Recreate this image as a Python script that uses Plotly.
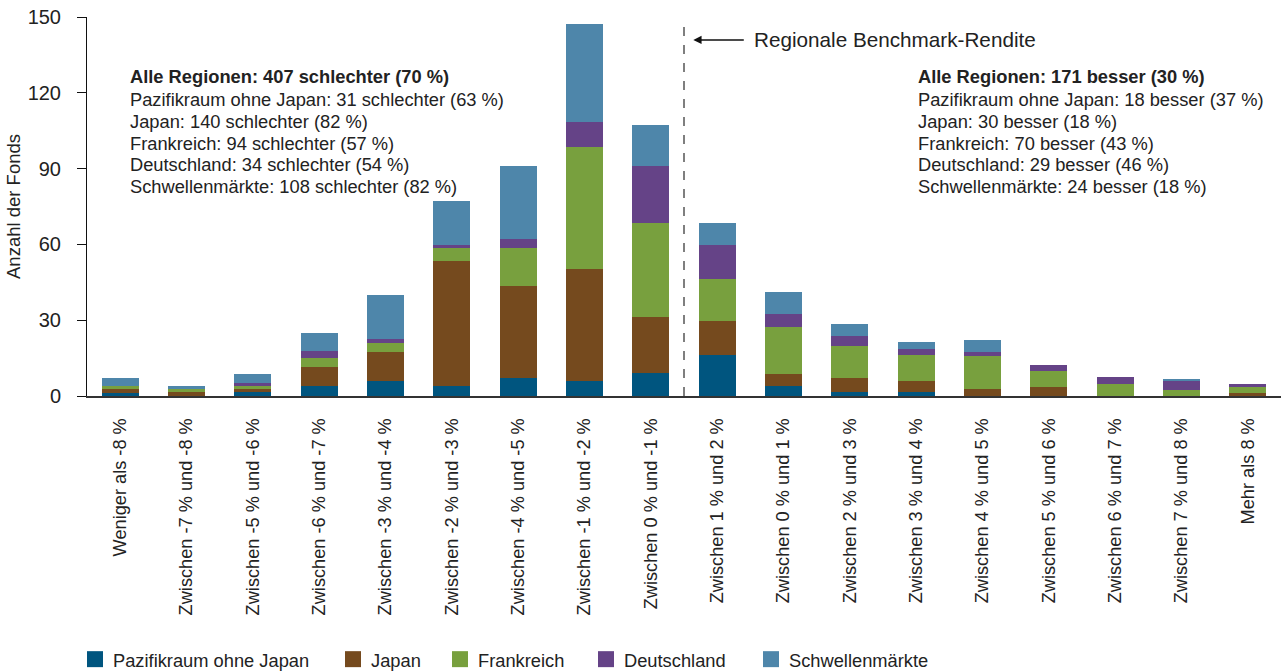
import plotly.graph_objects as go

# Return buckets (category order as printed on the axis)
categories = [
    "Weniger als -8 %",
    "Zwischen -7 % und -8 %",
    "Zwischen -5 % und -6 %",
    "Zwischen -6 % und -7 %",
    "Zwischen -3 % und -4 %",
    "Zwischen -2 % und -3 %",
    "Zwischen -4 % und -5 %",
    "Zwischen -1 % und -2 %",
    "Zwischen 0 % und -1 %",
    "Zwischen 1 % und 2 %",
    "Zwischen 0 % und 1 %",
    "Zwischen 2 % und 3 %",
    "Zwischen 3 % und 4 %",
    "Zwischen 4 % und 5 %",
    "Zwischen 5 % und 6 %",
    "Zwischen 6 % und 7 %",
    "Zwischen 7 % und 8 %",
    "Mehr als 8 %",
]

# Number of funds per region and bucket
pazifik = [1.3, 0.0, 1.4, 3.8, 6.1, 3.8, 7.3, 6.1, 9.0, 16.4, 3.8, 1.4, 1.4, 0.0, 0.0, 0.0, 0.0, 0.0]
japan = [1.3, 1.4, 1.2, 7.5, 11.4, 49.8, 36.4, 44.0, 22.1, 13.4, 5.1, 5.9, 4.7, 2.6, 3.7, 0.0, 0.0, 1.3]
frankreich = [1.2, 1.2, 1.2, 3.6, 3.6, 5.1, 15.0, 48.5, 37.4, 16.6, 18.6, 12.6, 10.3, 13.4, 6.3, 4.9, 2.5, 2.4]
deutschland = [0.0, 0.0, 1.2, 2.8, 1.6, 1.2, 3.6, 9.9, 22.5, 13.4, 5.1, 4.0, 2.4, 1.6, 2.4, 2.8, 3.6, 1.2]
schwellen = [3.5, 1.2, 3.9, 7.1, 17.4, 17.4, 28.9, 38.7, 16.2, 8.7, 8.7, 4.7, 2.4, 4.7, 0.0, 0.0, 0.4, 0.0]

series_names = ["Pazifikraum ohne Japan", "Japan", "Frankreich", "Deutschland", "Schwellenmärkte"]
series_values = [pazifik, japan, frankreich, deutschland, schwellen]
series_colors = ["#00557f", "#754a1e", "#78a03e", "#654387", "#4e86aa"]

y_ticks = [0, 30, 60, 90, 120, 150]

left_lines = [
    "<b>Alle Regionen: 407 schlechter (70 %)</b>",
    "Pazifikraum ohne Japan: 31 schlechter (63 %)",
    "Japan: 140 schlechter (82 %)",
    "Frankreich: 94 schlechter (57 %)",
    "Deutschland: 34 schlechter (54 %)",
    "Schwellenmärkte: 108 schlechter (82 %)",
]
right_lines = [
    "<b>Alle Regionen: 171 besser (30 %)</b>",
    "Pazifikraum ohne Japan: 18 besser (37 %)",
    "Japan: 30 besser (18 %)",
    "Frankreich: 70 besser (43 %)",
    "Deutschland: 29 besser (46 %)",
    "Schwellenmärkte: 24 besser (18 %)",
]
benchmark_label = "Regionale Benchmark-Rendite"

FONT = "Liberation Sans, Arial, sans-serif"
TEXT = "#222222"

W, H = 1283, 672
M_L, M_R, M_T, M_B = 87, 2, 17, 275.5
plot_w = W - M_L - M_R
plot_h = H - M_T - M_B


def px_x(pixel_x):
    """Convert a pixel column of the page into paper x."""
    return (pixel_x - M_L) / plot_w


def px_y(pixel_y):
    """Convert a pixel row of the page into paper y."""
    return (H - M_B - pixel_y) / plot_h


fig = go.Figure()
for name, vals, col in zip(series_names, series_values, series_colors):
    fig.add_trace(go.Bar(
        x=categories, y=vals, name=name, showlegend=False,
        marker=dict(color=col, line=dict(width=0)),
    ))

# Dashed divider between the negative and positive buckets
fig.add_shape(type="line", xref="x", yref="paper",
              x0=8.5, x1=8.5, y0=0, y1=px_y(24),
              line=dict(color="#555555", width=1.5, dash="dash"))

# Arrow pointing at the divider, with its caption
fig.add_annotation(xref="x", yref="paper", x=8.64, y=px_y(40),
                   axref="pixel", ayref="pixel", ax=52, ay=0,
                   text="", showarrow=True, arrowhead=2, arrowsize=1.1,
                   arrowwidth=1.5, arrowcolor="#111111", standoff=0)
fig.add_annotation(xref="paper", yref="paper", x=px_x(752), y=px_y(40),
                   xanchor="left", yanchor="middle", showarrow=False,
                   text=benchmark_label, font=dict(family=FONT, size=20.7, color=TEXT))

# Summary text blocks on both sides of the divider
line_rows = [77, 100, 122, 143.5, 165, 187]
for lines, x_px in ((left_lines, 128), (right_lines, 916)):
    for txt, row in zip(lines, line_rows):
        fig.add_annotation(xref="paper", yref="paper", x=px_x(x_px), y=px_y(row),
                           xanchor="left", yanchor="middle", showarrow=False,
                           text=txt, font=dict(family=FONT, size=18.3, color=TEXT))

# Legend row below the category labels
legend_x = [87, 345, 452, 598, 763]
legend_row = 660
for name, col, lx in zip(series_names, series_colors, legend_x):
    fig.add_shape(type="rect", xref="paper", yref="paper",
                  x0=px_x(lx), x1=px_x(lx + 16), y0=px_y(legend_row + 8), y1=px_y(legend_row - 8),
                  fillcolor=col, line=dict(width=0))
    fig.add_annotation(xref="paper", yref="paper", x=px_x(lx + 24), y=px_y(legend_row + 1),
                       xanchor="left", yanchor="middle", showarrow=False,
                       text=name, font=dict(family=FONT, size=18.3, color=TEXT))

fig.update_layout(
    width=W, height=H,
    barmode="stack", bargap=0.44,
    margin=dict(l=M_L, r=M_R, t=M_T, b=M_B, pad=0),
    paper_bgcolor="white", plot_bgcolor="white",
    font=dict(family=FONT, size=18, color=TEXT),
    showlegend=False,
)
fig.update_xaxes(
    type="category", range=[-0.5, 17.5], tickangle=-90,
    showline=True, linecolor="#333333", linewidth=2,
    ticks="", showgrid=False, zeroline=False,
    tickfont=dict(family=FONT, size=18.2, color=TEXT),
    ticklabelstandoff=13,
)
fig.update_yaxes(
    range=[0, 150], tickvals=y_ticks, showgrid=False, zeroline=False,
    showline=True, linecolor="#111111", linewidth=1,
    ticks="outside", ticklen=9, tickcolor="#111111", tickwidth=1,
    tickfont=dict(family=FONT, size=20, color=TEXT),
    ticklabelstandoff=12,
    title=dict(text="Anzahl der Fonds", standoff=2,
               font=dict(family=FONT, size=18.5, color=TEXT)),
)

fig.write_html("out.html")
